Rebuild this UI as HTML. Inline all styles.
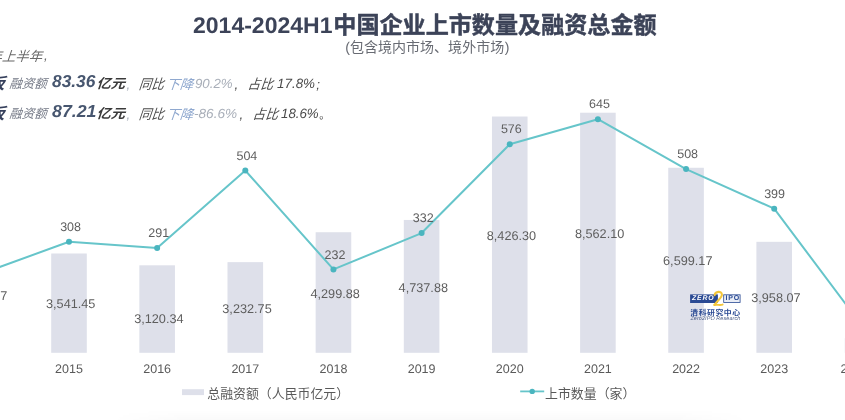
<!DOCTYPE html>
<html lang="zh"><head><meta charset="utf-8"><title>2014-2024H1中国企业上市数量及融资总金额</title>
<style>
html,body{margin:0;padding:0;background:#fff}
body{width:845px;height:420px;overflow:hidden;font-family:"Liberation Sans",sans-serif}
#c{position:relative;width:845px;height:420px;overflow:hidden;background:#fff}
#c svg{position:absolute;left:0;top:0}
#f{position:absolute;left:0;top:0;width:845px;height:420px;filter:blur(0.7px)}
.t{position:absolute;white-space:nowrap;line-height:1;font-family:"Liberation Sans",sans-serif;text-rendering:geometricPrecision;font-kerning:none}
.h{color:transparent;opacity:0;pointer-events:none}
svg text{font-family:"Liberation Sans","Noto Sans CJK SC",sans-serif}
</style></head><body>
<div id="c"><div id="f">
<svg width="845" height="420" viewBox="0 0 845 420">
<defs><linearGradient id="bg" x1="0" y1="0" x2="0" y2="1"><stop offset="0" stop-color="#000" stop-opacity="0"/><stop offset="1" stop-color="#000" stop-opacity="0.02"/></linearGradient><linearGradient id="bm" x1="0" y1="0" x2="1" y2="0"><stop offset="0" stop-color="#fff" stop-opacity="0"/><stop offset="0.12" stop-color="#fff"/><stop offset="0.88" stop-color="#fff"/><stop offset="1" stop-color="#fff" stop-opacity="0"/></linearGradient><mask id="mk"><rect x="110" y="400" width="640" height="20" fill="url(#bm)"/></mask></defs><rect x="110" y="410" width="640" height="10" fill="url(#bg)" mask="url(#mk)"/>
<rect x="-36.95" y="236.8" width="35.6" height="116" fill="#dee0ea"/>
<rect x="51.2" y="253.5" width="35.6" height="99.3" fill="#dee0ea"/>
<rect x="139.35" y="265.31" width="35.6" height="87.49" fill="#dee0ea"/>
<rect x="227.5" y="262.15" width="35.6" height="90.65" fill="#dee0ea"/>
<rect x="315.65" y="232.23" width="35.6" height="120.57" fill="#dee0ea"/>
<rect x="403.8" y="219.95" width="35.6" height="132.85" fill="#dee0ea"/>
<rect x="491.95" y="116.53" width="35.6" height="236.27" fill="#dee0ea"/>
<rect x="580.1" y="112.72" width="35.6" height="240.08" fill="#dee0ea"/>
<rect x="668.25" y="167.76" width="35.6" height="185.04" fill="#dee0ea"/>
<rect x="756.4" y="241.82" width="35.6" height="110.98" fill="#dee0ea"/>
<rect x="844.55" y="338.22" width="35.6" height="14.58" fill="#dee0ea" fill-opacity="0.45"/>
<polyline points="-19.15,273.81 69,241.8 157.15,247.98 245.3,170.49 333.45,269.45 421.6,233.07 509.75,144.3 597.9,119.2 686.05,169.04 774.2,208.69 862.35,326.2" fill="none" stroke="#66c5ca" stroke-width="2" stroke-linejoin="round"/>
<circle cx="-19.15" cy="273.81" r="3" fill="#4ab5bf"/>
<circle cx="69" cy="241.8" r="3" fill="#4ab5bf"/>
<circle cx="157.15" cy="247.98" r="3" fill="#4ab5bf"/>
<circle cx="245.3" cy="170.49" r="3" fill="#4ab5bf"/>
<circle cx="333.45" cy="269.45" r="3" fill="#4ab5bf"/>
<circle cx="421.6" cy="233.07" r="3" fill="#4ab5bf"/>
<circle cx="509.75" cy="144.3" r="3" fill="#4ab5bf"/>
<circle cx="597.9" cy="119.2" r="3" fill="#4ab5bf"/>
<circle cx="686.05" cy="169.04" r="3" fill="#4ab5bf"/>
<circle cx="774.2" cy="208.69" r="3" fill="#4ab5bf"/>
<circle cx="862.35" cy="326.2" r="3" fill="#4ab5bf"/>
<text x="333.3" y="33" font-size="23.1" font-weight="bold" fill="#3c4358" stroke="#3c4358" stroke-width="0.45" stroke-linejoin="round">中国企业上市数量及融资总金额</text>
<text x="350" y="51.8" font-size="14.03" fill="#686b73">包含境内市场、境外市场</text>
<text transform="translate(1.67 60.63) skewX(-19) scale(1.0105 1)" font-size="13.3" fill="#6a6a6a">上半年</text>
<text transform="translate(-11.77 60.63) skewX(-19) scale(1.0105 1)" font-size="13.3" fill="#6a6a6a">年</text>
<text transform="translate(-13.37 88.75) skewX(-19) scale(1.1224 1)" font-size="15.77" font-weight="bold" fill="#36405c">板</text>
<text transform="translate(9.12 88.43) skewX(-19) scale(0.9897 1)" font-size="12.58" fill="#747986">融资额</text>
<text transform="translate(96.27 88.21) skewX(-19) scale(1.1003 1)" font-size="12.96" font-weight="bold" fill="#3a3a3a">亿元</text>
<text transform="translate(138.52 88.69) skewX(-19) scale(0.9181 1)" font-size="13.67" fill="#4a4a4a">同比</text>
<text transform="translate(166.06 88.74) skewX(-19) scale(1.0236 1)" font-size="13.16" fill="#8fa8cf">下降</text>
<text transform="translate(247.28 88.73) skewX(-19) scale(0.9353 1)" font-size="13.61" fill="#4a4a4a">占比</text>
<text transform="translate(-13.37 118.75) skewX(-19) scale(1.1224 1)" font-size="15.77" font-weight="bold" fill="#36405c">板</text>
<text transform="translate(9.12 118.43) skewX(-19) scale(0.9897 1)" font-size="12.58" fill="#747986">融资额</text>
<text transform="translate(96.27 118.21) skewX(-19) scale(1.1003 1)" font-size="12.96" font-weight="bold" fill="#3a3a3a">亿元</text>
<text transform="translate(138.52 118.69) skewX(-19) scale(0.9181 1)" font-size="13.67" fill="#4a4a4a">同比</text>
<text transform="translate(166.06 118.74) skewX(-19) scale(1.0236 1)" font-size="13.16" fill="#8fa8cf">下降</text>
<text transform="translate(252.28 118.73) skewX(-19) scale(0.9353 1)" font-size="13.61" fill="#4a4a4a">占比</text>
<text transform="translate(319.26 118.86) scale(0.8917 1)" font-size="11.82" fill="#4a4a4a">。</text>
<rect x="182" y="389.2" width="22" height="5.9" fill="#dee0ea"/>
<text x="207.3" y="398.3" font-size="12.9" fill="#595959">总融资额（人民币亿元）</text>
<line x1="520.2" y1="391.4" x2="544.2" y2="391.4" stroke="#66c5ca" stroke-width="1.8"/>
<circle cx="532.2" cy="391.4" r="2.7" fill="#4ab5bf"/>
<text x="545.1" y="398.3" font-size="12.9" fill="#595959">上市数量（家）</text>
<rect x="690.1" y="294.4" width="27.8" height="8.6" fill="#2a4a94"/>
<rect x="723.7" y="294.8" width="16.4" height="7.8" fill="#e9edf6" stroke="#2a4a94" stroke-width="0.8"/>
<path d="M714.6 295.2 C715.2 291.2 721.6 290.6 721.9 294.6 C722 297.6 717.2 300.6 714.6 304.8" fill="none" stroke="#f3c63a" stroke-width="2.1" stroke-linecap="round"/>
<path d="M714.2 305 C717 304.2 719.6 305.6 722.6 304.6" fill="none" stroke="#f3c63a" stroke-width="1.9" stroke-linecap="round"/>
<text transform="translate(690.3 315.4) scale(1.1449 1)" font-size="6.9" font-weight="bold" letter-spacing="0.42" fill="#2a4a94">清科研究中心</text>
</svg>
<span class="t" style="left:-17.45px;top:289.95px;font-size:12.7px;color:#5e5e5e;transform:translateX(-50%);">3,994.07</span>
<span class="t" style="left:70.7px;top:298.3px;font-size:12.7px;color:#5e5e5e;transform:translateX(-50%);">3,541.45</span>
<span class="t" style="left:158.85px;top:313.1px;font-size:12.7px;color:#5e5e5e;transform:translateX(-50%);">3,120.34</span>
<span class="t" style="left:247px;top:302.63px;font-size:12.7px;color:#5e5e5e;transform:translateX(-50%);">3,232.75</span>
<span class="t" style="left:335.15px;top:287.67px;font-size:12.7px;color:#5e5e5e;transform:translateX(-50%);">4,299.88</span>
<span class="t" style="left:423.3px;top:281.52px;font-size:12.7px;color:#5e5e5e;transform:translateX(-50%);">4,737.88</span>
<span class="t" style="left:511.45px;top:229.81px;font-size:12.7px;color:#5e5e5e;transform:translateX(-50%);">8,426.30</span>
<span class="t" style="left:599.6px;top:227.91px;font-size:12.7px;color:#5e5e5e;transform:translateX(-50%);">8,562.10</span>
<span class="t" style="left:687.75px;top:255.43px;font-size:12.7px;color:#5e5e5e;transform:translateX(-50%);">6,599.17</span>
<span class="t" style="left:775.9px;top:292.46px;font-size:12.7px;color:#5e5e5e;transform:translateX(-50%);">3,958.07</span>
<span class="t" style="left:70.6px;top:220.92px;font-size:12.5px;color:#5e5e5e;transform:translateX(-50%);">308</span>
<span class="t" style="left:158.75px;top:227.1px;font-size:12.5px;color:#5e5e5e;transform:translateX(-50%);">291</span>
<span class="t" style="left:246.9px;top:149.61px;font-size:12.5px;color:#5e5e5e;transform:translateX(-50%);">504</span>
<span class="t" style="left:335.05px;top:248.57px;font-size:12.5px;color:#5e5e5e;transform:translateX(-50%);">232</span>
<span class="t" style="left:423.2px;top:212.19px;font-size:12.5px;color:#5e5e5e;transform:translateX(-50%);">332</span>
<span class="t" style="left:511.35px;top:123.42px;font-size:12.5px;color:#5e5e5e;transform:translateX(-50%);">576</span>
<span class="t" style="left:599.5px;top:98.32px;font-size:12.5px;color:#5e5e5e;transform:translateX(-50%);">645</span>
<span class="t" style="left:687.65px;top:148.16px;font-size:12.5px;color:#5e5e5e;transform:translateX(-50%);">508</span>
<span class="t" style="left:774.6px;top:187.81px;font-size:12.5px;color:#5e5e5e;transform:translateX(-50%);">399</span>
<span class="t" style="left:-19.15px;top:362.92px;font-size:12.5px;color:#5a5a5a;transform:translateX(-50%);">2014</span>
<span class="t" style="left:69px;top:362.92px;font-size:12.5px;color:#5a5a5a;transform:translateX(-50%);">2015</span>
<span class="t" style="left:157.15px;top:362.92px;font-size:12.5px;color:#5a5a5a;transform:translateX(-50%);">2016</span>
<span class="t" style="left:245.3px;top:362.92px;font-size:12.5px;color:#5a5a5a;transform:translateX(-50%);">2017</span>
<span class="t" style="left:333.45px;top:362.92px;font-size:12.5px;color:#5a5a5a;transform:translateX(-50%);">2018</span>
<span class="t" style="left:421.6px;top:362.92px;font-size:12.5px;color:#5a5a5a;transform:translateX(-50%);">2019</span>
<span class="t" style="left:509.75px;top:362.92px;font-size:12.5px;color:#5a5a5a;transform:translateX(-50%);">2020</span>
<span class="t" style="left:597.9px;top:362.92px;font-size:12.5px;color:#5a5a5a;transform:translateX(-50%);">2021</span>
<span class="t" style="left:686.05px;top:362.92px;font-size:12.5px;color:#5a5a5a;transform:translateX(-50%);">2022</span>
<span class="t" style="left:774.2px;top:362.92px;font-size:12.5px;color:#5a5a5a;transform:translateX(-50%);">2023</span>
<span class="t" style="left:862.35px;top:362.92px;font-size:12.5px;color:#5a5a5a;transform:translateX(-50%);">2024H1</span>
<span class="t" style="left:193.4px;top:14.48px;font-size:22.7px;color:#3c4358;font-weight:bold;transform-origin:0 0;transform:scaleX(1.014);font-kerning:none;">2014-2024H1</span>
<span class="t" style="left:345.3px;top:39.95px;font-size:14px;color:#686b73;">(</span>
<span class="t" style="left:504.63px;top:39.95px;font-size:14px;color:#686b73;">)</span>
<span class="t" style="left:44px;top:49.2px;font-size:13.5px;color:#6a6a6a;font-style:italic;">,</span>
<span class="t" style="left:51.72px;top:73.07px;font-size:17.37px;color:#47566f;font-kerning:none;transform-origin:0 0;transform:scaleX(0.99911);font-weight:bold;font-style:italic;">83.36</span>
<span class="t" style="left:126.6px;top:77.74px;font-size:13.3px;color:#a9afb9;font-style:italic;">,</span>
<span class="t" style="left:194.5px;top:77.48px;font-size:13.28px;color:#a9afb9;font-kerning:none;transform-origin:0 0;transform:scaleX(0.99942);font-style:italic;">90.2%</span>
<span class="t" style="left:234.5px;top:77.74px;font-size:13.3px;color:#4a4a4a;font-style:italic;">,</span>
<span class="t" style="left:276.7px;top:77.23px;font-size:13.57px;color:#4a4a4a;font-kerning:none;transform-origin:0 0;transform:scaleX(0.98831);font-style:italic;">17.8%</span>
<span class="t" style="left:316.3px;top:77.74px;font-size:13.3px;color:#4a4a4a;font-style:italic;">;</span>
<span class="t" style="left:51.72px;top:103.07px;font-size:17.37px;color:#47566f;font-kerning:none;transform-origin:0 0;transform:scaleX(1.02335);font-weight:bold;font-style:italic;">87.21</span>
<span class="t" style="left:126.6px;top:107.74px;font-size:13.3px;color:#a9afb9;font-style:italic;">,</span>
<span class="t" style="left:194.05px;top:107.48px;font-size:13.28px;color:#a9afb9;font-kerning:none;transform-origin:0 0;transform:scaleX(1.02412);font-style:italic;">-86.6%</span>
<span class="t" style="left:239.5px;top:107.74px;font-size:13.3px;color:#4a4a4a;font-style:italic;">,</span>
<span class="t" style="left:281.31px;top:107.24px;font-size:13.56px;color:#4a4a4a;font-kerning:none;transform-origin:0 0;transform:scaleX(0.981);font-style:italic;">18.6%</span>
<span class="t" style="left:691.9px;top:295.76px;font-size:6.9px;color:#fff;font-weight:bold;font-style:italic;letter-spacing:0.85px;">ZERO</span>
<span class="t" style="left:725.6px;top:295.47px;font-size:7px;color:#2a4a94;font-weight:bold;letter-spacing:0.75px;">IPO</span>
<span class="t h" style="left:714px;top:290px;font-size:16px">2</span>
<span class="t" style="left:690.4px;top:317.03px;font-size:5.4px;color:#4b5d88;font-style:italic;letter-spacing:0.12px;">Zero2IPO Research</span>
</div></div>
</body></html>
